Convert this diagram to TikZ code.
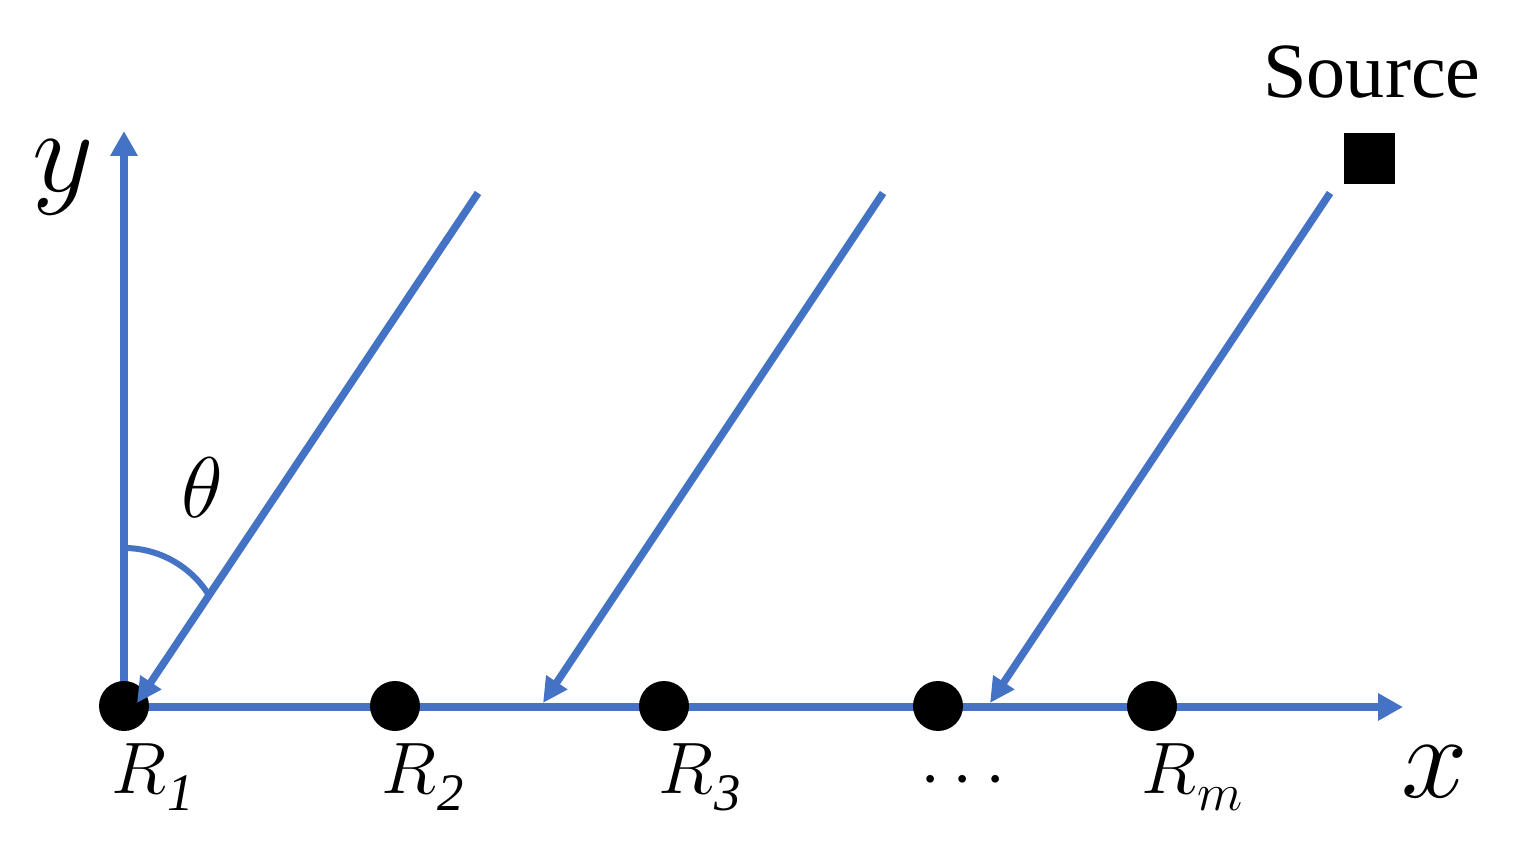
\RequirePackage{fix-cm}
\documentclass[tikz,border=0pt]{standalone}
\usepackage{fontspec}
\setmainfont{Liberation Serif}
\usetikzlibrary{arrows.meta}
\definecolor{axisblue}{RGB}{68,114,196}
\newcommand{\Rlab}[1]{$R$\kern0.02cm\raisebox{-0.34cm}{\fontsize{30}{31}\selectfont #1}}
\tikzset{
  ray/.style={draw=axisblue, line width=0.15cm, -{Triangle[length=0.5cm,width=0.48cm]}},
  axisline/.style={draw=axisblue, line width=0.15cm, -{Triangle[length=0.5cm,width=0.52cm]}},
  receiver/.style={circle, fill=black, minimum size=1.0cm, inner sep=0pt},
  rlabel/.style={anchor=base west, inner sep=0pt, font=\fontsize{41.5}{44}\selectfont},
  axlabel/.style={anchor=base, inner sep=0pt, font=\fontsize{68}{70}\selectfont},
}
\begin{document}
\begin{tikzpicture}[x=0.02cm,y=0.02cm]
\useasboundingbox (0,0) rectangle (1517,-841);
\coordinate (O) at (124,-707);
\coordinate (ytip) at (124,-131);
\coordinate (xtip) at (1403,-707);
\draw[axisline] (O) -- (ytip);
\draw[axisline] (O) -- (xtip);
% receivers
\node[receiver] (r1) at (124,-706) {};
\node[receiver] (r2) at (395,-706) {};
\node[receiver] (r3) at (664,-706) {};
\node[receiver] (r4) at (938,-706) {};
\node[receiver] (r5) at (1152,-706) {};
% rays
\coordinate (s1) at (478,-193);
\coordinate (t1) at (137,-703);
\coordinate (s2) at (883,-193);
\coordinate (t2) at (543,-703);
\coordinate (s3) at (1330,-193);
\coordinate (t3) at (990,-703);
\draw[ray] (s1) -- (t1);
\draw[ray] (s2) -- (t2);
\draw[ray] (s3) -- (t3);
% angle arc
\coordinate (ac) at (124,-648);
\draw[axisblue, line width=0.12cm] ([shift={(90:100)}]ac) arc[start angle=90, end angle=33, radius=100];
\node[inner sep=0pt, font=\fontsize{49}{50}\selectfont] (theta) at (202,-488) {$\theta$};
% source
\node[fill=black, minimum size=1.02cm, inner sep=0pt] (src) at (1369.5,-158.5) {};
\node[anchor=base west, inner sep=0pt, font=\fontsize{44.5}{46}\selectfont] (srclabel) at (1263,-98) {Source};
% labels
\node[rlabel] (l1) at (111,-793) {\Rlab{\itshape 1}};
\node[rlabel] (l2) at (381,-793) {\Rlab{\itshape 2}};
\node[rlabel] (l3) at (658,-793) {\Rlab{\itshape 3}};
\node[rlabel, anchor=base] (l4) at (963,-797) {$\cdots$};
\node[rlabel] (l5) at (1141,-793) {\Rlab{$m$}};
\node[axlabel] (ylab) at (63,-192) {$y$};
\node[axlabel] (xlab) at (1435,-797) {$x$};
\end{tikzpicture}
\end{document}
